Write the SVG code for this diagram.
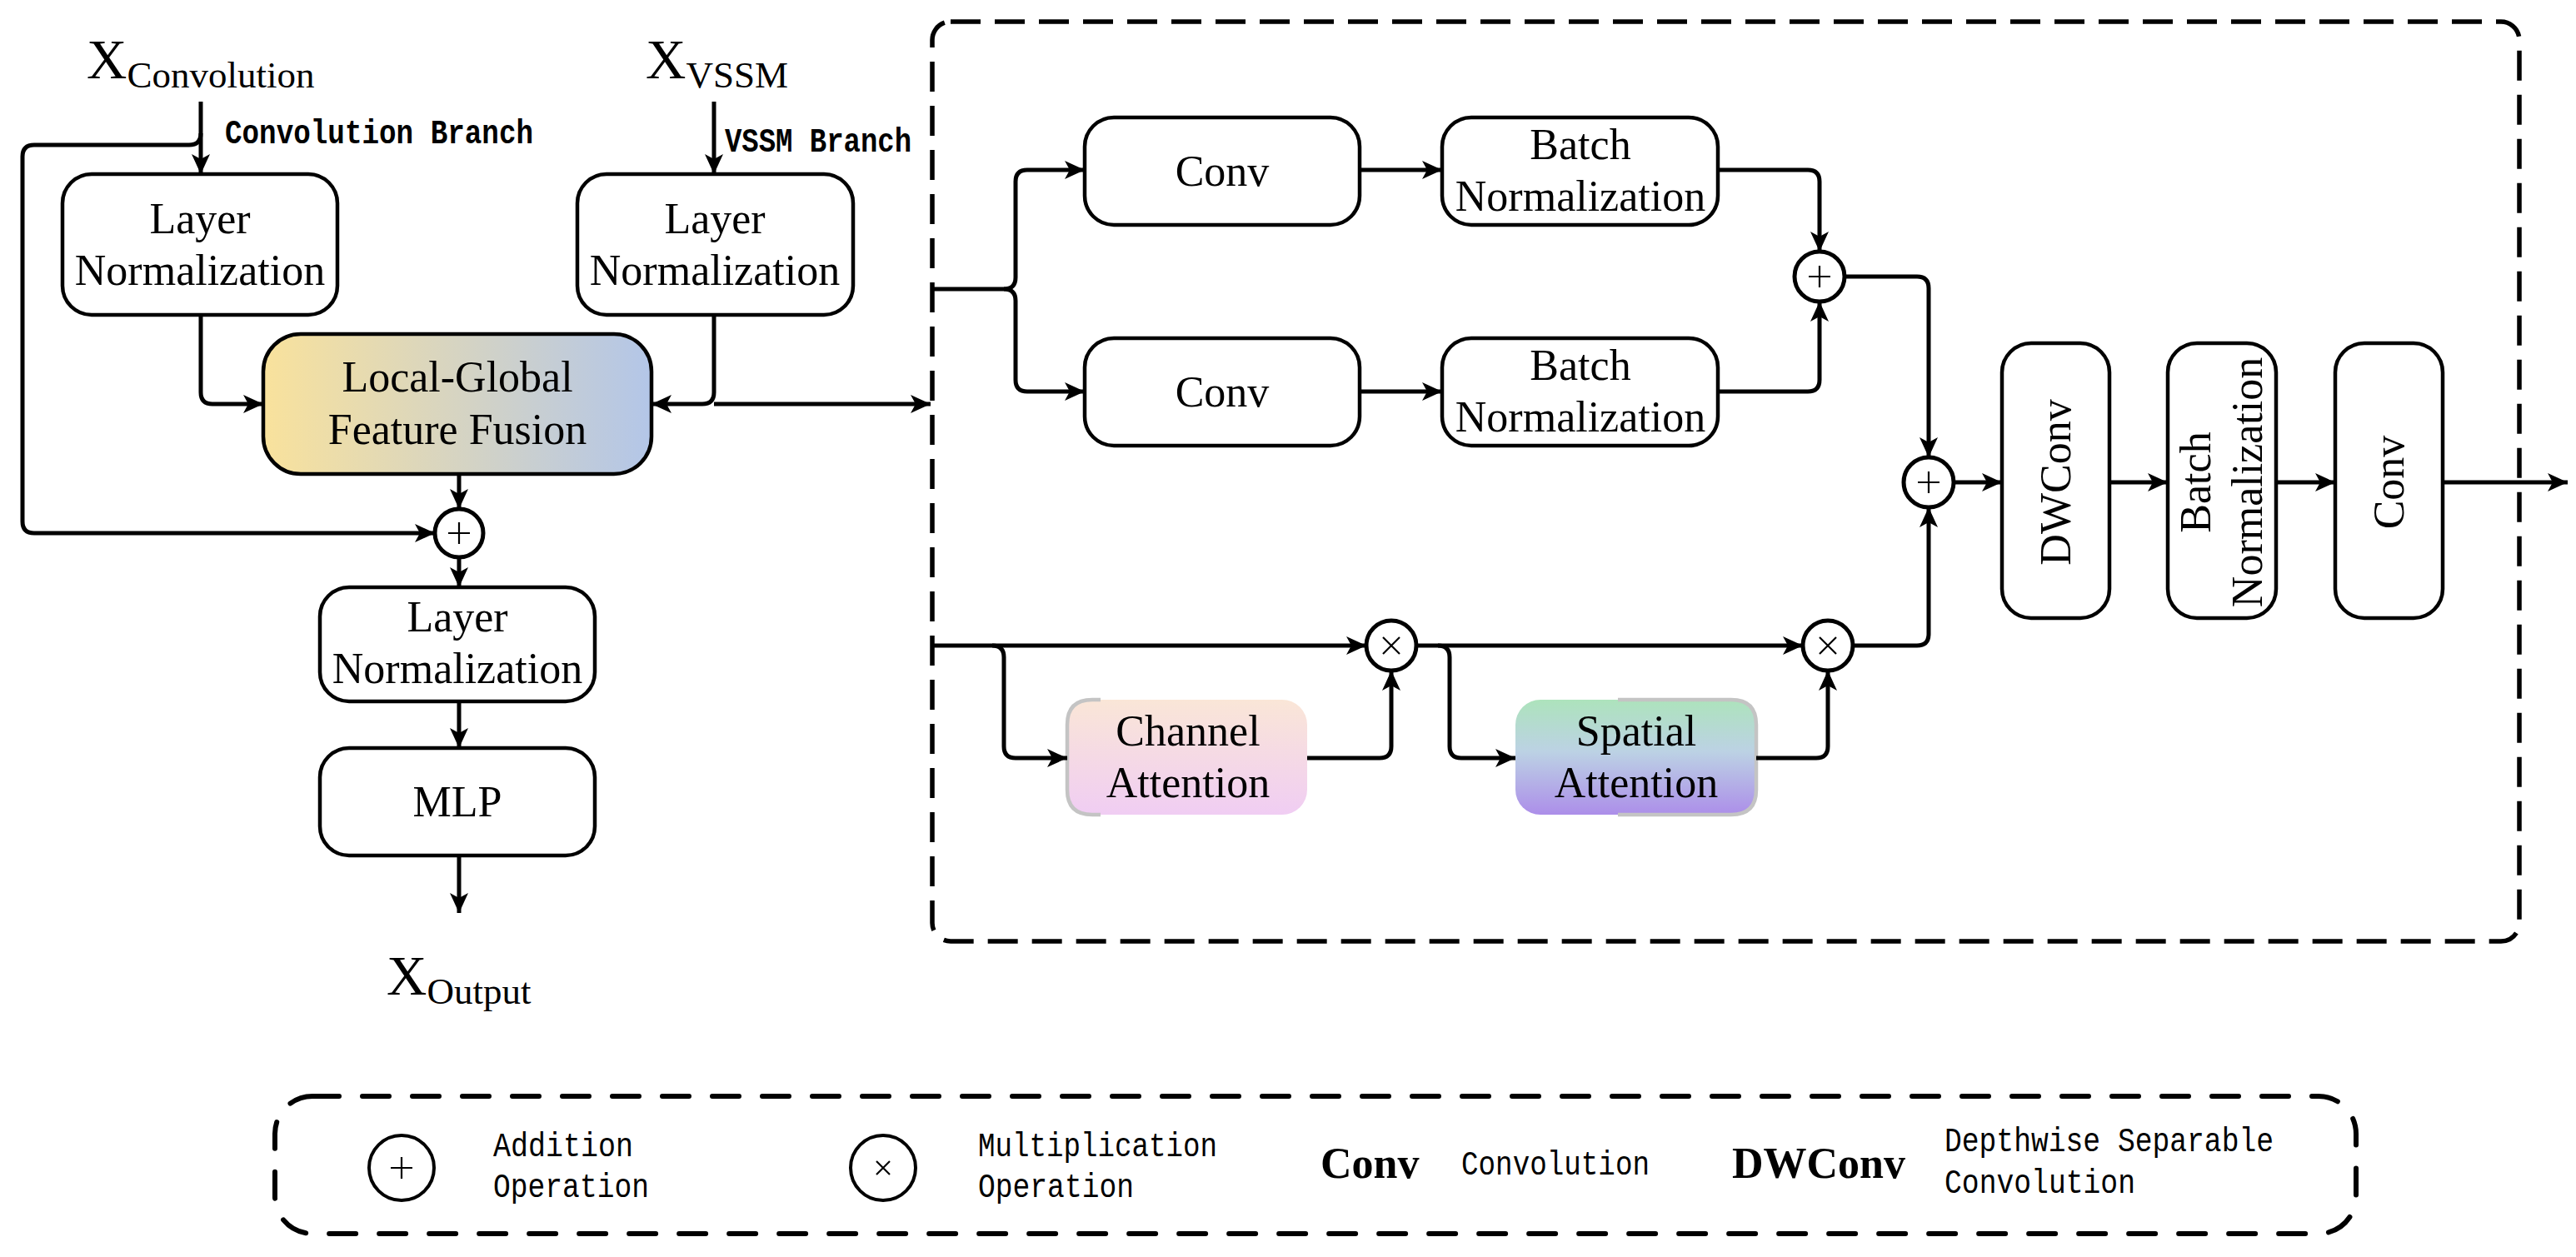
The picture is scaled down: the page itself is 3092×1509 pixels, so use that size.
<svg xmlns="http://www.w3.org/2000/svg" width="3092" height="1509" viewBox="0 0 3092 1509">
<style>
.box{fill:#fff;stroke:#000;stroke-width:4.5}
.c{fill:none;stroke:#000;stroke-width:5;stroke-linejoin:round;marker-end:url(#ah)}
.t{font-family:"Liberation Serif","Times New Roman",serif;font-size:52px;text-anchor:middle;fill:#000}
.x{font-family:"Liberation Serif","Times New Roman",serif;font-size:67px;fill:#000}
.sub{font-size:45px}
.m{font-family:"Liberation Mono","Courier New",monospace;font-size:40px;fill:#000}
.b{font-family:"Liberation Serif","Times New Roman",serif;font-size:52px;font-weight:bold;fill:#000}
.op{fill:#fff;stroke:#000;stroke-width:5}
.sym{stroke:#000;stroke-width:2.2;fill:none}
.dash{fill:none;stroke:#000;stroke-width:5.5;stroke-dasharray:36 17}
.gray{fill:none;stroke:#c4c4c4;stroke-width:4.5}
</style>
<defs>
<marker id="ah" viewBox="0 0 24 22" refX="24" refY="11" markerWidth="24" markerHeight="22" markerUnits="userSpaceOnUse" orient="auto"><path d="M0,0 L24,11 L0,22 L6,11 z" fill="#000"/></marker>
<linearGradient id="gLG" x1="0" y1="0" x2="1" y2="0"><stop offset="0" stop-color="#F9E29C"/><stop offset="1" stop-color="#B3C6E8"/></linearGradient>
<linearGradient id="gCA" x1="0" y1="0" x2="0" y2="1"><stop offset="0" stop-color="#FAE6D7"/><stop offset="1" stop-color="#F0CDF3"/></linearGradient>
<linearGradient id="gSA" x1="0" y1="0" x2="0" y2="1"><stop offset="0" stop-color="#ADE3BC"/><stop offset="0.45" stop-color="#BCD2E4"/><stop offset="1" stop-color="#AC8EE9"/></linearGradient>
</defs>
<rect width="3092" height="1509" fill="#fff"/>

<g id="frame">
<rect class="dash" x="1119" y="26" width="1905" height="1104" rx="22"/>
</g>

<g id="inputs">
<text class="x" x="104" y="94">X<tspan class="sub" dy="11">Convolution</tspan></text>
<text class="x" x="775" y="94">X<tspan class="sub" dy="11">VSSM</tspan></text>
<text class="m" x="270" y="172" font-weight="bold" textLength="370" lengthAdjust="spacingAndGlyphs">Convolution Branch</text>
<text class="m" x="870" y="182" font-weight="bold" textLength="224" lengthAdjust="spacingAndGlyphs">VSSM Branch</text>
</g>

<g id="ln1"><rect class="box" x="75" y="209" width="330" height="169" rx="35"/><text class="t" x="240" y="280">Layer</text><text class="t" x="240" y="342">Normalization</text></g>
<g id="ln2"><rect class="box" x="693" y="209" width="331" height="169" rx="35"/><text class="t" x="858" y="280">Layer</text><text class="t" x="858" y="342">Normalization</text></g>
<g id="lgff"><rect x="316" y="401" width="466" height="168" rx="45" fill="url(#gLG)" stroke="#000" stroke-width="4.5"/><text class="t" x="549" y="470">Local-Global</text><text class="t" x="549" y="533">Feature Fusion</text></g>
<g id="add0"><circle class="op" cx="551" cy="640" r="29"/><path class="sym" d="M538,640 H564 M551,627 V653"/></g>
<g id="ln3"><rect class="box" x="384" y="705" width="330" height="137" rx="35"/><text class="t" x="549" y="758">Layer</text><text class="t" x="549" y="820">Normalization</text></g>
<g id="mlp"><rect class="box" x="384" y="898" width="330" height="129" rx="35"/><text class="t" x="549" y="980">MLP</text></g>
<g id="output"><text class="x" x="464" y="1194">X<tspan class="sub" dy="11">Output</tspan></text></g>

<g id="conv1"><rect class="box" x="1302" y="141" width="330" height="129" rx="35"/><text class="t" x="1467" y="223">Conv</text></g>
<g id="bn1"><rect class="box" x="1731" y="141" width="331" height="129" rx="35"/><text class="t" x="1897" y="191">Batch</text><text class="t" x="1897" y="253">Normalization</text></g>
<g id="conv2"><rect class="box" x="1302" y="406" width="330" height="129" rx="35"/><text class="t" x="1467" y="488">Conv</text></g>
<g id="bn2"><rect class="box" x="1731" y="406" width="331" height="129" rx="35"/><text class="t" x="1897" y="456">Batch</text><text class="t" x="1897" y="518">Normalization</text></g>
<g id="add1"><circle class="op" cx="2184" cy="332" r="30"/><path class="sym" d="M2171,332 H2197 M2184,319 V345"/></g>
<g id="add2"><circle class="op" cx="2315" cy="579" r="30"/><path class="sym" d="M2302,579 H2328 M2315,566 V592"/></g>
<g id="dwconv"><rect class="box" x="2403" y="412" width="129" height="330" rx="35"/><text class="t" transform="translate(2485,579) rotate(-90)">DWConv</text></g>
<g id="bn3"><rect class="box" x="2602" y="412" width="130" height="330" rx="35"/><text class="t" transform="translate(2653,579) rotate(-90)">Batch</text><text class="t" transform="translate(2715,579) rotate(-90)">Normalization</text></g>
<g id="conv3"><rect class="box" x="2803" y="412" width="129" height="330" rx="35"/><text class="t" transform="translate(2885,579) rotate(-90)">Conv</text></g>

<g id="ca"><rect x="1281" y="840" width="288" height="138" rx="30" fill="url(#gCA)"/><path class="gray" d="M1321,840 H1311 Q1281,840 1281,870 V948 Q1281,978 1311,978 H1321"/><text class="t" x="1426" y="895">Channel</text><text class="t" x="1426" y="957">Attention</text></g>
<g id="mul1"><circle class="op" cx="1670" cy="775" r="30"/><path class="sym" d="M1660,765 L1680,785 M1680,765 L1660,785"/></g>
<g id="sa"><rect x="1819" y="840" width="289" height="138" rx="30" fill="url(#gSA)"/><path class="gray" d="M1942,840 H2078 Q2108,840 2108,870 V948 Q2108,978 2078,978 H1942"/><text class="t" x="1964" y="895">Spatial</text><text class="t" x="1964" y="957">Attention</text></g>
<g id="mul2"><circle class="op" cx="2194" cy="775" r="30"/><path class="sym" d="M2184,765 L2204,785 M2204,765 L2184,785"/></g>

<g id="connectors">
<path class="c" d="M241,122 V209"/>
<path class="c" d="M241,160 Q241,174 227,174 H41 Q27,174 27,188 V626 Q27,640 41,640 H522"/>
<path class="c" d="M857,122 V209"/>
<path class="c" d="M241,378 V471 Q241,485 255,485 H316"/>
<path class="c" d="M857,378 V471 Q857,485 843,485 H782"/>
<path class="c" d="M857,485 H1117"/>
<path class="c" d="M551,569 V611"/>
<path class="c" d="M551,669 V705"/>
<path class="c" d="M551,842 V898"/>
<path class="c" d="M551,1027 V1096"/>
<path class="c" d="M1119,347 H1205 Q1219,347 1219,333 V218 Q1219,204 1233,204 H1302"/>
<path class="c" d="M1205,347 Q1219,347 1219,361 V456 Q1219,470 1233,470 H1302"/>
<path class="c" d="M1632,204 H1731"/>
<path class="c" d="M1632,470 H1731"/>
<path class="c" d="M2062,204 H2170 Q2184,204 2184,218 V302"/>
<path class="c" d="M2062,470 H2170 Q2184,470 2184,456 V362"/>
<path class="c" d="M2214,332 H2301 Q2315,332 2315,346 V549"/>
<path class="c" d="M2224,775 H2301 Q2315,775 2315,761 V609"/>
<path class="c" d="M2345,579 H2403"/>
<path class="c" d="M2532,579 H2602"/>
<path class="c" d="M2732,579 H2803"/>
<path class="c" d="M2932,579 H3082"/>
<path class="c" d="M1117,775 H1640"/>
<path class="c" d="M1191,775 Q1205,775 1205,789 V896 Q1205,910 1219,910 H1281"/>
<path class="c" d="M1569,910 H1656 Q1670,910 1670,896 V805"/>
<path class="c" d="M1700,775 H2164"/>
<path class="c" d="M1726,775 Q1740,775 1740,789 V896 Q1740,910 1754,910 H1819"/>
<path class="c" d="M2108,910 H2180 Q2194,910 2194,896 V805"/>
</g>

<g id="legend">
<rect x="330" y="1316" width="2498" height="165" rx="45" fill="none" stroke="#000" stroke-width="6" stroke-linecap="round" stroke-dasharray="32 28"/>
<circle cx="482" cy="1402" r="39" fill="#fff" stroke="#000" stroke-width="4"/>
<path class="sym" d="M469,1402 H495 M482,1389 V1415"/>
<text class="m" x="592" y="1388" textLength="168" lengthAdjust="spacingAndGlyphs">Addition</text>
<text class="m" x="592" y="1437" textLength="187" lengthAdjust="spacingAndGlyphs">Operation</text>
<circle cx="1060" cy="1402" r="39" fill="#fff" stroke="#000" stroke-width="4"/>
<path class="sym" d="M1052,1394 L1068,1410 M1068,1394 L1052,1410"/>
<text class="m" x="1174" y="1388" textLength="287" lengthAdjust="spacingAndGlyphs">Multiplication</text>
<text class="m" x="1174" y="1437" textLength="187" lengthAdjust="spacingAndGlyphs">Operation</text>
<text class="b" x="1585" y="1414">Conv</text>
<text class="m" x="1754" y="1410" textLength="226" lengthAdjust="spacingAndGlyphs">Convolution</text>
<text class="b" x="2079" y="1414">DWConv</text>
<text class="m" x="2334" y="1382" textLength="395" lengthAdjust="spacingAndGlyphs">Depthwise Separable</text>
<text class="m" x="2334" y="1432" textLength="229" lengthAdjust="spacingAndGlyphs">Convolution</text>
</g>
</svg>
